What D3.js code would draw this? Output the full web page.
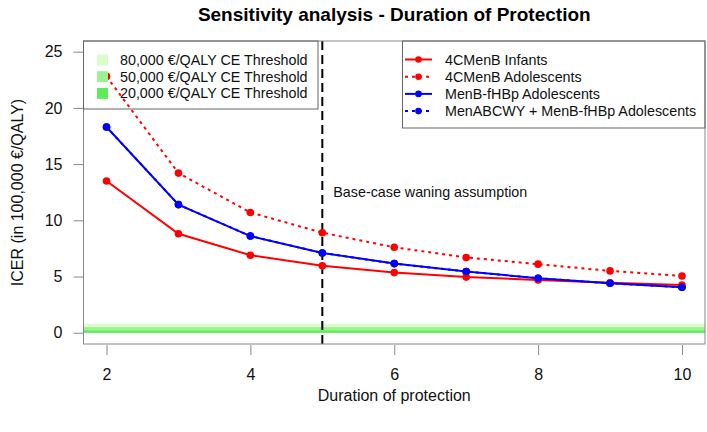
<!DOCTYPE html>
<html lang="en">
<head>
<meta charset="UTF-8">
<title>Sensitivity analysis</title>
<script src="https://d3js.org/d3.v7.min.js"></script>
<style>
  body { margin: 0; background: #fff; }
  svg { font-family: "Liberation Sans", Arial, sans-serif; }
</style>
</head>
<body>
<svg></svg>
<script>
    const width = 707;
    const height = 432;

    // duration of protection (years)
    const years = [2, 3, 4, 5, 6, 7, 8, 9, 10];
    // ICER in 100,000 EUR/QALY
    const infants4C = [13.5, 8.8, 6.9, 5.95, 5.35, 4.95, 4.7, 4.45, 4.25];
    const adolescents4C = [22.8, 14.2, 10.7, 8.9, 7.6, 6.7, 6.1, 5.5, 5.05];
    const fhbpAdolescents = [18.3, 11.4, 8.6, 7.1, 6.15, 5.45, 4.85, 4.4, 4.05];
    const menabcwyAdolescents = [18.3, 11.4, 8.6, 7.1, 6.15, 5.45, 4.85, 4.4, 4.05];

    const thresholdLabels = ['80,000 €/QALY CE Threshold', '50,000 €/QALY CE Threshold', '20,000 €/QALY CE Threshold'];
    const thresholdValues = [0.8, 0.5, 0.2];
    const thresholdColors = ['#dcfccb', '#9cf28e', '#5cec5c'];

    const seriesNames = ['4CMenB Infants', '4CMenB Adolescents', 'MenB-fHBp Adolescents', 'MenABCWY + MenB-fHBp Adolescents'];
    const xTicks = [2, 4, 6, 8, 10];
    const yTicks = [0, 5, 10, 15, 20, 25];
    const baseCase = 5;

    const series = [
        {name: seriesNames[3], values: menabcwyAdolescents, color: 'blue', dash: '3,4'},
        {name: seriesNames[0], values: infants4C, color: 'red', dash: null},
        {name: seriesNames[2], values: fhbpAdolescents, color: 'blue', dash: null},
        {name: seriesNames[1], values: adolescents4C, color: 'red', dash: '3,4'}
    ];

    const plot = {left: 83.5, right: 705, top: 41, bottom: 344};
    const smallFont = 14.3;

    const svg = d3.select('svg')
        .attr('width', width)
        .attr('height', height);

    const x = d3.scaleLinear().domain([1.68, 10.32]).range([plot.left, plot.right]);
    const y = d3.scaleLinear().domain([-1, 25.95]).range([plot.bottom, plot.top]);

    // threshold bands
    svg.append('g')
        .selectAll('rect')
        .data(thresholdValues)
        .join('rect')
        .attr('x', plot.left)
        .attr('width', plot.right - plot.left)
        .attr('y', d => y(d))
        .attr('height', d => y(0) - y(d))
        .attr('fill', (d, i) => thresholdColors[i]);

    // base case line
    svg.append('line')
        .attr('x1', x(baseCase)).attr('x2', x(baseCase))
        .attr('y1', plot.top).attr('y2', plot.bottom)
        .attr('stroke', 'black')
        .attr('stroke-width', 2)
        .attr('stroke-dasharray', '9,5');

    svg.append('text')
        .attr('x', x(baseCase) + 11)
        .attr('y', 197)
        .attr('font-size', smallFont)
        .attr('fill', '#111')
        .text('Base-case waning assumption');

    const line = d3.line()
        .x((d, i) => x(years[i]))
        .y(d => y(d));

    series.forEach(s => {
        svg.append('path')
            .datum(s.values)
            .attr('d', line)
            .attr('fill', 'none')
            .attr('stroke', s.color)
            .attr('stroke-width', 2)
            .attr('stroke-dasharray', s.dash);

        svg.append('g')
            .selectAll('circle')
            .data(s.values)
            .join('circle')
            .attr('cx', (d, i) => x(years[i]))
            .attr('cy', d => y(d))
            .attr('r', 3.8)
            .attr('fill', s.color);
    });

    // plot box
    svg.append('rect')
        .attr('x', plot.left).attr('y', plot.top)
        .attr('width', plot.right - plot.left).attr('height', plot.bottom - plot.top)
        .attr('fill', 'none')
        .attr('stroke', '#888');

    // axes
    const xAxis = d3.axisBottom(x).tickValues(xTicks).tickSize(10).tickPadding(14);
    svg.append('g')
        .attr('transform', `translate(0,${plot.bottom + 1})`)
        .call(xAxis)
        .call(g => g.select('.domain').remove())
        .call(g => g.selectAll('line').attr('stroke', '#888'))
        .call(g => g.selectAll('text').attr('font-size', 16).attr('fill', '#111').attr('font-family', null));

    const yAxis = d3.axisLeft(y).tickValues(yTicks).tickSize(10).tickPadding(11);
    svg.append('g')
        .attr('transform', `translate(${plot.left},0)`)
        .call(yAxis)
        .call(g => g.select('.domain').remove())
        .call(g => g.selectAll('line').attr('stroke', '#888'))
        .call(g => g.selectAll('text').attr('font-size', 16).attr('fill', '#111').attr('font-family', null));

    // titles
    svg.append('text')
        .attr('x', (plot.left + plot.right) / 2)
        .attr('y', 21)
        .attr('text-anchor', 'middle')
        .attr('font-size', 19)
        .attr('font-weight', 'bold')
        .text('Sensitivity analysis - Duration of Protection');

    svg.append('text')
        .attr('x', (plot.left + plot.right) / 2)
        .attr('y', 401)
        .attr('text-anchor', 'middle')
        .attr('font-size', 16)
        .attr('fill', '#111')
        .text('Duration of protection');

    svg.append('text')
        .attr('transform', `translate(23,${(plot.top + plot.bottom) / 2}) rotate(-90)`)
        .attr('text-anchor', 'middle')
        .attr('font-size', 16)
        .attr('fill', '#111')
        .text('ICER (in 100,000 €/QALY)');

    // threshold legend
    const leg1 = svg.append('g');
    leg1.append('rect')
        .attr('x', plot.left).attr('y', plot.top)
        .attr('width', 318 - plot.left).attr('height', 68)
        .attr('fill', 'none').attr('stroke', '#666');
    thresholdLabels.forEach((t, i) => {
        const cy = 60 + i * 16.7;
        leg1.append('rect')
            .attr('x', 97).attr('y', cy - 5.5)
            .attr('width', 11).attr('height', 11)
            .attr('fill', thresholdColors[i]);
        leg1.append('text')
            .attr('x', 120).attr('y', cy + 5)
            .attr('font-size', smallFont)
            .attr('fill', '#111')
            .text(t);
    });

    // series legend
    const leg2 = svg.append('g');
    leg2.append('rect')
        .attr('x', 402.5).attr('y', plot.top)
        .attr('width', plot.right - 402.5).attr('height', 128 - plot.top)
        .attr('fill', 'none').attr('stroke', '#666');
    const legendStyles = [
        {color: 'red', dash: null},
        {color: 'red', dash: '3,4'},
        {color: 'blue', dash: null},
        {color: 'blue', dash: '3,4'}
    ];
    seriesNames.forEach((n, i) => {
        const cy = 59.5 + i * 17.2;
        leg2.append('line')
            .attr('x1', 405).attr('x2', 432)
            .attr('y1', cy).attr('y2', cy)
            .attr('stroke', legendStyles[i].color)
            .attr('stroke-width', 2)
            .attr('stroke-dasharray', legendStyles[i].dash);
        leg2.append('circle')
            .attr('cx', 418.5).attr('cy', cy).attr('r', 3.3)
            .attr('fill', legendStyles[i].color);
        leg2.append('text')
            .attr('x', 445).attr('y', cy + 5)
            .attr('font-size', smallFont)
            .attr('fill', '#111')
            .text(n);
    });
</script>
</body>
</html>
